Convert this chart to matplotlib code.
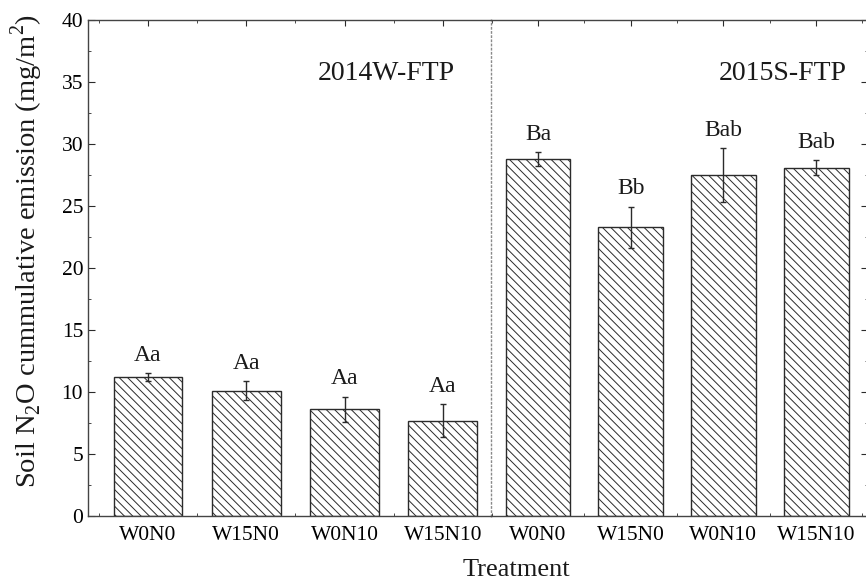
import numpy as np
import matplotlib
matplotlib.use('Agg')
import matplotlib.pyplot as plt
from matplotlib.ticker import MultipleLocator

plt.rcParams['font.family'] = ['Liberation Serif', 'DejaVu Serif']
plt.rcParams['mathtext.fontset'] = 'custom'
plt.rcParams['mathtext.rm'] = 'Liberation Serif'
plt.rcParams['hatch.linewidth'] = 0.7

#------------------------------------------------------------------------------------
treatments = ['W0N0', 'W15N0', 'W0N10', 'W15N10']
periods = ['2014W-FTP', '2015S-FTP']
means_2014 = [11.2, 10.1, 8.6, 7.7]
err_2014 = [0.3, 0.75, 1.0, 1.3]
means_2015 = [28.8, 23.3, 27.5, 28.1]
err_2015 = [0.55, 1.65, 2.15, 0.6]
letters_2014 = ['Aa', 'Aa', 'Aa', 'Aa']
letters_2015 = ['Ba', 'Bb', 'Bab', 'Bab']
#------------------------------------------------------------------------------------

W, H = 866, 581
fig = plt.figure(figsize=(W/100, H/100), dpi=100)
ax1 = fig.add_axes([88/W, (H-516)/H, 403/W, 496/H])
ax2 = fig.add_axes([491/W, (H-516)/H, 377/W, 496/H], sharey=ax1)
ax2.patch.set_visible(False)

dark = '#2b2b2b'
x = np.arange(len(treatments))

def draw(ax, vals, errs, labs, title, xlim, tx):
  ax.bar(x, vals, width=0.7, color='white', edgecolor=dark, linewidth=1.0, hatch='\\\\\\\\', zorder=2)
  ax.errorbar(x, vals, yerr=errs, fmt='none', ecolor=dark, elinewidth=1.0, capsize=2.5, capthick=1.0, zorder=3)
  for xi, v, e, s in zip(x, vals, errs, labs):
    ax.annotate(s, (xi, v + e), xytext=(0, 9), textcoords='offset points',
                ha='center', va='baseline', fontsize=17, color='#1a1a1a')
  ax.set_xlim(*xlim)
  ax.set_xticks(x)
  ax.set_xticklabels(treatments, fontsize=15.5)
  ax.xaxis.set_minor_locator(MultipleLocator(0.5))
  ax.tick_params(axis='x', which='both', direction='in', top=True, bottom=True, color=dark, pad=7)
  ax.tick_params(axis='x', which='major', length=4)
  ax.tick_params(axis='x', which='minor', length=2.5)
  ax.text(tx, 35.7, title, ha='center', va='center', fontsize=20, color='#1a1a1a')
  for sp in ax.spines.values():
    sp.set_color('#444444'); sp.set_linewidth(1.0)

draw(ax1, means_2014, err_2014, letters_2014, periods[0], (-0.61, 3.49), 2.43)
draw(ax2, means_2015, err_2015, letters_2015, periods[1], (-0.507, 3.56), 2.64)

ax1.set_ylim(0, 40)
ax1.yaxis.set_major_locator(MultipleLocator(5))
ax1.yaxis.set_minor_locator(MultipleLocator(2.5))
ax1.tick_params(axis='y', which='both', direction='in', left=True, right=False, labelsize=15.5, color=dark)
ax1.tick_params(axis='y', which='major', length=5)
ax1.tick_params(axis='y', which='minor', length=2.5)
ax1.spines['right'].set_linestyle((0, (1, 2)))
ax1.spines['right'].set_color('#8a8a8a')
ax1.spines['right'].set_linewidth(1.0)

ax2.spines['left'].set_visible(False)
ax2.tick_params(axis='y', which='both', direction='in', left=False, right=True, labelleft=False, color=dark)
ax2.tick_params(axis='y', which='major', length=5)
ax2.tick_params(axis='y', which='minor', length=2.5)

ax1.set_ylabel('Soil N$_2$O cummulative emission (mg/m$^2$)', fontsize=20.5, color='#1a1a1a')
ax1.yaxis.set_label_coords(-0.107, 0.535)
fig.text(516/W, 0.5/H, 'Treatment', ha='center', va='bottom', fontsize=19, color='#1a1a1a')

plt.savefig('out.png', dpi=100)
